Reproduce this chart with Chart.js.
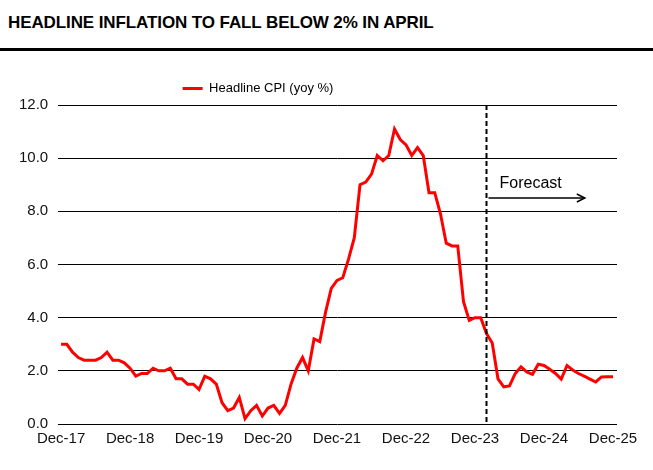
<!DOCTYPE html>
<html>
<head>
<meta charset="utf-8">
<script src="https://cdn.jsdelivr.net/npm/chart.js@4.4.1/dist/chart.umd.min.js"></script>
<style>
body { margin:0; background:#fff; width:653px; height:470px; position:relative; overflow:hidden; font-family: Arial, "Liberation Sans", sans-serif; }
#title { position:absolute; left:8px; top:13px; font-weight:bold; font-size:17px; letter-spacing:-0.1px; color:#000; white-space:nowrap; }
#rule { position:absolute; left:0; top:48px; width:653px; height:3px; background:#000; }
#wrap { position:absolute; left:0; top:55px; width:653px; height:415px; }
</style>
</head>
<body>
<div id="title">HEADLINE INFLATION TO FALL BELOW 2% IN APRIL</div>
<div id="rule"></div>
<div id="wrap"><canvas id="cpiChart"></canvas></div>
<script>
// monthly, Dec-17 .. Dec-25
const cpi = [
  3.0,                                                        // Dec-17
  3.0, 2.7, 2.5, 2.4, 2.4, 2.4, 2.5, 2.7, 2.4, 2.4, 2.3, 2.1,  // 2018
  1.8, 1.9, 1.9, 2.1, 2.0, 2.0, 2.1, 1.7, 1.7, 1.5, 1.5, 1.3,  // 2019
  1.8, 1.7, 1.5, 0.8, 0.5, 0.6, 1.0, 0.2, 0.5, 0.7, 0.3, 0.6,  // 2020
  0.7, 0.4, 0.7, 1.5, 2.1, 2.5, 2.0, 3.2, 3.1, 4.2, 5.1, 5.4,  // 2021
  5.5, 6.2, 7.0, 9.0, 9.1, 9.4, 10.1, 9.9, 10.1, 11.1, 10.7, 10.5, // 2022
  10.1, 10.4, 10.1, 8.7, 8.7, 7.9, 6.8, 6.7, 6.7, 4.6, 3.9, 4.0,   // 2023
  4.0, 3.4, 3.05, 1.7, 1.4, 1.43, 1.9, 2.15, 1.96, 1.87, 2.25, 2.2, // 2024
  2.06, 1.9, 1.69, 2.2, 2.03, 1.9, 1.8, 1.69, 1.58, 1.77, 1.78, 1.78 // 2025
];
const tickLabels = ['Dec-17', 'Dec-18', 'Dec-19', 'Dec-20', 'Dec-21', 'Dec-22', 'Dec-23', 'Dec-24', 'Dec-25'];
const yTicks = [0, 2, 4, 6, 8, 10, 12];

const monthNames = ['Jan','Feb','Mar','Apr','May','Jun','Jul','Aug','Sep','Oct','Nov','Dec'];
const months = cpi.map((_, i) => {
  const m = (11 + i) % 12;
  const yr = 17 + Math.floor((11 + i) / 12);
  return monthNames[m] + '-' + yr;
});
const tickPos = tickLabels.map(l => months.indexOf(l));

const forecastStart = months.indexOf('Feb-24');
const forecastText = 'Forecast';

const forecastMarker = {
  id: 'forecastMarker',
  afterDatasetsDraw(chart) {
    const {ctx, chartArea, scales: {x, y}} = chart;
    const px = x.getPixelForValue(forecastStart);
    ctx.save();
    ctx.strokeStyle = '#000';
    ctx.lineWidth = 2;
    ctx.setLineDash([5, 3]);
    ctx.beginPath();
    ctx.moveTo(px, chartArea.top);
    ctx.lineTo(px, chartArea.bottom);
    ctx.stroke();
    ctx.setLineDash([]);

    // arrow
    const ay = y.getPixelForValue(8.5);
    const ax2 = x.getPixelForValue(91.1);
    ctx.lineWidth = 1.5;
    ctx.beginPath();
    ctx.moveTo(px + 2, ay);
    ctx.lineTo(ax2, ay);
    ctx.stroke();
    ctx.beginPath();
    ctx.moveTo(ax2 - 8, ay - 4);
    ctx.lineTo(ax2, ay);
    ctx.lineTo(ax2 - 8, ay + 4);
    ctx.stroke();

    ctx.font = '16px Arial, "Liberation Sans", sans-serif';
    ctx.fillStyle = '#000';
    ctx.textBaseline = 'middle';
    ctx.fillText(forecastText, px + 13, y.getPixelForValue(9.05));
    ctx.restore();
  }
};

// legend sits left of centre in the original
const legendShift = {
  id: 'legendShift',
  afterLayout(chart) {
    const lg = chart.legend;
    const dx = 258 - (lg.left + lg.right) / 2;
    lg.left += dx;
    lg.right += dx;
  }
};

const font = 'Arial, "Liberation Sans", sans-serif';

new Chart(document.getElementById('cpiChart'), {
  type: 'line',
  data: {
    datasets: [{
      label: 'Headline CPI (yoy %)',
      data: cpi.map((v, i) => ({x: i, y: v})),
      borderColor: '#ff0000',
      backgroundColor: '#ff0000',
      borderWidth: 3,
      pointRadius: 0,
      tension: 0
    }]
  },
  options: {
    responsive: true,
    maintainAspectRatio: false,
    animation: false,
    layout: {padding: {top: 16, left: 9, right: 36, bottom: 16}},
    plugins: {
      tooltip: {enabled: false},
      legend: {
        position: 'top',
        labels: {
          boxWidth: 20,
          boxHeight: 3,
          padding: 11,
          color: '#000',
          font: {family: font, size: 13},
          generateLabels: chart => Chart.defaults.plugins.legend.labels.generateLabels(chart).map(l => ({...l, lineWidth: 0}))
        }
      }
    },
    scales: {
      x: {
        type: 'linear',
        min: -0.5,
        max: 96.7,
        afterBuildTicks: axis => { axis.ticks = tickPos.map(v => ({value: v})); },
        grid: {display: false, drawTicks: false},
        border: {display: false},
        ticks: {
          autoSkip: false,
          maxRotation: 0,
          padding: 6,
          color: '#111',
          font: {family: font, size: 15},
          callback: v => tickLabels[tickPos.indexOf(v)]
        }
      },
      y: {
        min: 0,
        max: 12,
        afterBuildTicks: axis => { axis.ticks = yTicks.map(v => ({value: v})); },
        grid: {color: '#000', lineWidth: 1, drawTicks: false},
        border: {display: false},
        ticks: {
          padding: 10,
          color: '#111',
          font: {family: font, size: 15},
          callback: v => v.toFixed(1)
        }
      }
    }
  },
  plugins: [forecastMarker, legendShift]
});
</script>
</body>
</html>
